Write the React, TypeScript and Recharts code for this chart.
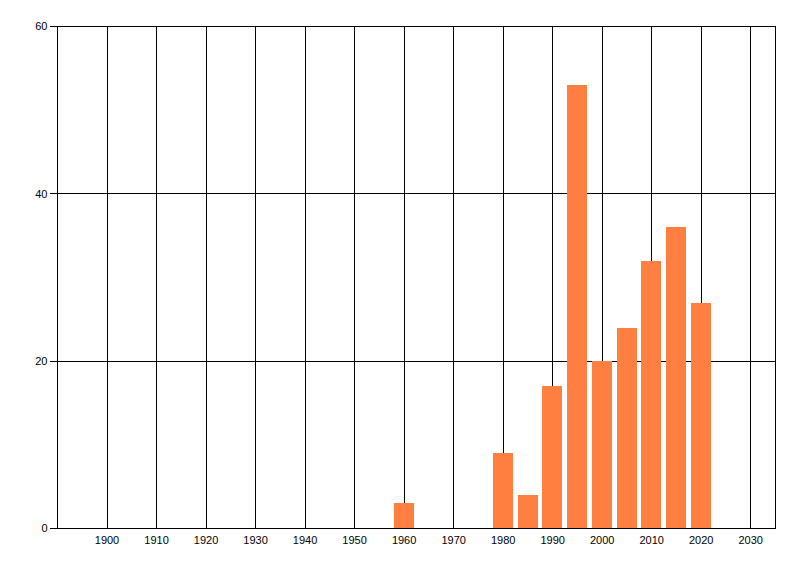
import { Bar, BarChart, CartesianGrid, XAxis, YAxis } from "recharts";

const years = [1960, 1980, 1985, 1990, 1995, 2000, 2005, 2010, 2015, 2020];
const counts = [3, 9, 4, 17, 53, 20, 24, 32, 36, 27];
const xTicks = [1900, 1910, 1920, 1930, 1940, 1950, 1960, 1970, 1980, 1990, 2000, 2010, 2020, 2030];
const yTicks = [0, 20, 40, 60];

const data = years.map((year, i) => ({ year, count: counts[i] }));

const tickStyle = { fontFamily: "Liberation Sans, Arial, sans-serif", fontSize: 11, fill: "#000" };

export default function App() {
  return (
    <div style={{ position: "absolute", left: 0, top: 0, width: 800, height: 576, background: "#fff" }}>
      <BarChart
        width={800}
        height={576}
        data={data}
        margin={{ top: 26.5, right: 24.5, bottom: 17.5, left: 0 }}
        style={{ shapeRendering: "crispEdges" }}
      >
        <CartesianGrid stroke="#000" strokeWidth={1} />
        <XAxis
          dataKey="year"
          type="number"
          domain={[1890, 2035]}
          ticks={xTicks}
          allowDataOverflow
          height={30}
          tickLine={false}
          tickSize={0}
          tickMargin={8}
          axisLine={{ stroke: "#000" }}
          tick={tickStyle}
          interval={0}
        />
        <YAxis
          domain={[0, 60]}
          ticks={yTicks}
          width={57.5}
          tickSize={8}
          tickMargin={2}
          axisLine={{ stroke: "#000" }}
          tickLine={{ stroke: "#000" }}
          tick={tickStyle}
          interval={0}
        />
        <Bar dataKey="count" fill="#FF7F41" barSize={20} isAnimationActive={false} />
      </BarChart>
    </div>
  );
}
